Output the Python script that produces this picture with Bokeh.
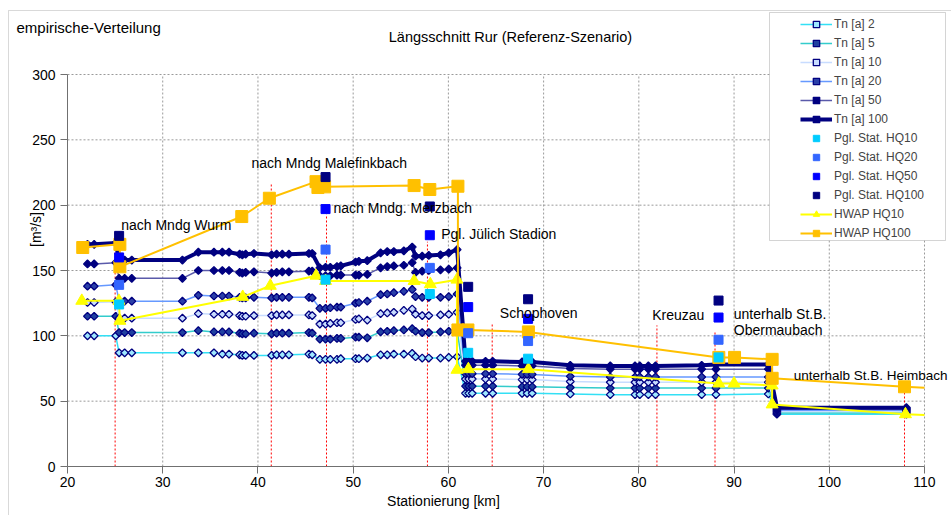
import math
from bokeh.plotting import figure
from bokeh.models import (Range1d, Legend, LegendItem, Label, BoxAnnotation,
                          FixedTicker, LinearAxis)
from bokeh.embed import file_html
from bokeh.resources import INLINE

# ---------------- data ----------------
stations = [22.1, 22.8, 25.07, 25.42, 26.0, 26.75, 32.07, 33.74, 35.38, 36.26,
            36.96, 38.08, 38.36, 38.71, 39.58, 41.44, 41.96, 42.56, 43.25, 45.35,
            45.7, 46.5, 47.1, 47.6, 48.3, 48.7, 50.25, 50.6, 51.48, 52.88,
            53.58, 54.27, 55.32, 56.2, 56.55, 57.25, 57.94, 59.17, 60.04, 60.92,
            61.8, 62.14, 62.5, 63.9, 64.65, 67.74, 68.27, 68.8, 72.8, 77.0,
            79.6, 80.1, 81.0, 81.75, 86.6, 88.1, 93.6, 94.5, 108.1]

tn100 = [170, 170, 171, 158, 158, 158, 158,
         164, 164, 164, 164, 162.5, 162, 162.5, 163,
         162, 162.5, 162.5, 162.5, 163, 163,
         152, 152.5, 152.5, 153, 153.5, 156.5, 157,
         157.5, 163.5, 164.5, 164.5, 165, 168, 161, 161, 161.5, 162, 163.5, 166,
         80.5, 80.5, 80.5, 80.5, 80.5, 80, 80, 80,
         77.5, 77, 77, 77, 77, 77, 77.5, 78, 78, 45, 45]
tn50 = [155, 155, 156, 144, 144, 144, 144,
        150, 150, 150, 150, 148.5, 148, 148.5, 149,
        148, 148.5, 149, 149, 149.5, 149.5,
        146, 146, 146, 146.5, 146.5, 146.5, 146.5,
        147, 152, 153, 153.5, 154, 156, 148.5, 149.5, 150, 150.5, 151, 152,
        77.5, 77.5, 77.5, 77.5, 77.5, 77, 77, 77,
        75, 74.5, 74.5, 74.5, 74.5, 74.5, 74.5, 74.5, 74.5, 44, 44]
tn20 = [138, 138, 139, 126.5, 126.5, 126.5, 126.5,
        131, 130.5, 130.5, 130.5, 129.5, 129, 129, 129.5,
        129, 129.5, 129.5, 129.5, 129.5, 129,
        121, 121, 121.5, 122, 122, 125, 125.5,
        126.5, 131.5, 132, 133, 134, 135.5, 130, 129.5, 129.5, 129.5, 130, 132,
        71, 71, 71, 71, 71, 70.5, 70.5, 70.5,
        69, 68.5, 68.5, 68.5, 68.5, 68.5, 68.5, 68.5, 68.5, 43, 43]
tn10 = [125.5, 125.5, 126, 113.5, 113.5, 113.5, 113.5,
        117, 116.5, 116.5, 116.5, 115.5, 115, 115, 115.5,
        115.5, 116, 116, 116, 116, 115.5,
        109, 109, 109.5, 110, 110, 112.5, 113,
        112, 117, 117.5, 118, 119.5, 120.5, 116.5, 115.5, 115.5, 116, 116.5, 118,
        67, 67, 67, 67, 67, 66.5, 66.5, 66.5,
        65, 64.5, 64.5, 64.5, 64.5, 64.5, 64.5, 64.5, 64.5, 42, 42]
tn5 = [115, 115, 115, 102.5, 102.5, 102.5, 102.5,
       104, 103, 103, 103, 102, 101.5, 101.5, 102,
       101.5, 102, 102, 102, 102.5, 102,
       97.5, 97.5, 97.5, 98, 98, 99, 99,
       98.5, 103, 103.5, 104, 104.5, 105.5, 103.5, 102.5, 102.5, 103, 103.5, 104,
       61.5, 61.5, 61.5, 61.5, 61.5, 61, 61, 61,
       60.5, 60, 60, 60, 60, 60, 60, 60, 60, 41, 41]
tn2 = [100, 100, 100, 87, 87, 87, 87,
       87, 87, 86, 86, 85.5, 85, 85, 85,
       85, 85.5, 85.5, 85.5, 86, 85.5,
       82, 82, 82, 82, 82.5, 82.5, 82.5,
       83, 85.5, 85.5, 86, 86, 86.5, 84, 83, 83, 83, 83.5, 84,
       56, 56, 56, 56, 56, 56, 56, 56,
       55.5, 55, 55, 55, 55, 55, 55, 55, 55.5, 40, 40]

pgl_x = [25.42, 47.1, 58.05, 62.08, 68.37, 88.37]
pgl_hq10 = [124, 143, 132, 87, 82.5, 83.5]
pgl_hq20 = [139, 166, 152, 102, 96, 97]
pgl_hq50 = [160, 197, 177, 122, 113, 114]
pgl_hq100 = [176.5, 221.5, 199, 137.5, 128, 127]

hwap10_x = [21.5, 25.4, 25.5, 38.4, 41.3, 46.1, 47.1, 56.4, 58.1, 60.9, 60.9,
            62.1, 68.4, 88.4, 90.0, 94.0, 94.0, 108.0]
hwap10_y = [126.8, 126.8, 111.5, 129.8, 138.3, 146, 142, 142, 139.5, 143, 74,
            74.5, 74.5, 63.5, 63.5, 62, 47.5, 40]
hwap100_x = [21.6, 25.5, 25.5, 38.3, 41.2, 46.1, 46.3, 47.0, 56.4, 58.05, 61.0,
             61.0, 62.05, 68.4, 88.4, 90.05, 94.0, 94.0, 107.9]
hwap100_y = [167.6, 170, 152.8, 191.3, 205.3, 218, 213.5, 214, 215, 212, 214.5,
             104.5, 104.5, 103, 83.5, 83.5, 82, 67.5, 61]
# value where each HWAP line leaves the plot at its right edge (x = 110)
hwap10_edge = 39.5
hwap100_edge = 60.3

mark_x = [25.0, 41.4, 47.2, 57.8, 64.6, 81.9, 88.0, 107.9]
mark_top = [180, 216, 193, 172, 110, 108, 104, 57]

x_ticks = [20, 30, 40, 50, 60, 70, 80, 90, 100, 110]
y_ticks = [0, 50, 100, 150, 200, 250, 300]

# ---------------- layout ----------------
W, H = 951, 515
FL, FR, FT, FB = 67, 924, 74, 466          # pixel box of the plot area
X0, X1, Y0, Y1 = 20, 110, 0, 300
FONT = "Liberation Sans"
KX = (FR - FL) / (X1 - X0)
KY = (FB - FT) / (Y1 - Y0)


def dx(px):
    return X0 + (px - FL) / KX


def dy(py):
    return Y0 + (FB - py) / KY


p = figure(width=W, height=H,
           x_range=Range1d(dx(0), dx(W)), y_range=Range1d(dy(H), dy(0)),
           x_axis_type=None, y_axis_type=None,
           output_backend="svg", toolbar_location=None,
           min_border_left=0, min_border_right=0,
           min_border_top=0, min_border_bottom=0)
p.outline_line_color = None
p.background_fill_color = "white"
p.border_fill_color = "white"

xaxis = LinearAxis(fixed_location=Y0, bounds=(X0, X1),
                   ticker=FixedTicker(ticks=x_ticks))
yaxis = LinearAxis(fixed_location=X0, bounds=(Y0, Y1),
                   ticker=FixedTicker(ticks=y_ticks))
p.add_layout(xaxis, "below")
p.add_layout(yaxis, "left")
for ax in (xaxis, yaxis):
    ax.major_label_text_font = FONT
    ax.major_label_text_font_size = "14px"
    ax.major_label_text_color = "black"
    ax.axis_line_color = "#707070"
    ax.major_tick_line_color = "#707070"
    ax.major_tick_in = 0
    ax.major_tick_out = 7
    ax.minor_tick_line_color = None
xaxis.major_label_standoff = 3
yaxis.major_label_standoff = 5

# grid lines at the tick positions
p.segment(x0=x_ticks[1:], y0=[Y0] * (len(x_ticks) - 1),
          x1=x_ticks[1:], y1=[Y1] * (len(x_ticks) - 1),
          line_color="#9a9a9a", line_dash="2 2", line_width=1)
p.segment(x0=[X0] * (len(y_ticks) - 1), y0=y_ticks[1:],
          x1=[X1] * (len(y_ticks) - 1), y1=y_ticks[1:],
          line_color="#9a9a9a", line_dash="2 2", line_width=1)

# outer chart border (right and bottom edges lie outside the picture)
p.add_layout(BoxAnnotation(left=dx(8), right=dx(970), top=dy(10), bottom=dy(560),
                           fill_alpha=0, line_color="#808080", line_width=1))

# red station markers
p.segment(x0=mark_x, y0=[0] * len(mark_x), x1=mark_x, y1=mark_top,
          line_color="#FF0000", line_dash="2 2", line_width=1)

series = [
    (tn2, "Tn [a] 2", "#33E0F5", 1.5, "#9FE8FF"),
    (tn5, "Tn [a] 5", "#33CCCC", 1.5, "#2040A0"),
    (tn10, "Tn [a] 10", "#C8DCFF", 1.5, "#C8DCFF"),
    (tn20, "Tn [a] 20", "#6699FF", 1.5, "#2A3FA8"),
    (tn50, "Tn [a] 50", "#5A5AAA", 1.5, "#000080"),
    (tn100, "Tn [a] 100", "#000080", 4, "#000080"),
]
items = []
for vals, name, col, lw, fill in series:
    l = p.line(stations, vals, line_color=col, line_width=lw)
    s = p.scatter(stations, vals, marker="square", angle=math.pi / 4, size=5.5,
                  line_color="#000080", fill_color=fill, line_width=1.3)
    items.append(LegendItem(label=name, renderers=[l, s]))

hl10 = p.line(hwap10_x + [X1], hwap10_y + [hwap10_edge],
              line_color="#FFFF00", line_width=2)
hs10 = p.scatter(hwap10_x, hwap10_y, marker="triangle", size=12,
                 color="#FFFF00")
hl100 = p.line(hwap100_x + [X1], hwap100_y + [hwap100_edge],
               line_color="#FFC000", line_width=2)
hs100 = p.scatter(hwap100_x, hwap100_y, marker="square", size=12,
                  color="#FFC000")

pg_items = []
for vals, name, col in [(pgl_hq10, "Pgl. Stat. HQ10", "#00CCFF"),
                        (pgl_hq20, "Pgl. Stat. HQ20", "#3366FF"),
                        (pgl_hq50, "Pgl. Stat. HQ50", "#0000FF"),
                        (pgl_hq100, "Pgl. Stat. HQ100", "#000080")]:
    r = p.scatter(pgl_x, vals, marker="square", size=9, color=col)
    pg_items.append(LegendItem(label=name, renderers=[r]))

items += pg_items
items.append(LegendItem(label="HWAP HQ10", renderers=[hl10, hs10]))
items.append(LegendItem(label="HWAP HQ100", renderers=[hl100, hs100]))


# texts
def add_text(px, py, txt, size="14px", align="left", angle=0.0):
    p.add_layout(Label(x=dx(px), y=dy(py), text=txt, text_font=FONT,
                       text_font_size=size, text_align=align,
                       text_baseline="middle", angle=angle,
                       text_color="black"))


add_text(16, 27, "empirische-Verteilung", size="15px")
add_text(510, 36, "Längsschnitt Rur (Referenz-Szenario)", size="14.5px",
         align="center")
add_text(443, 500, "Stationierung [km]", align="center")
add_text(35, 229, "[m³/s]", align="center", angle=math.pi / 2)

add_text(120.7, 224, "nach Mndg Wurm")
add_text(251, 162, "nach Mndg Malefinkbach")
add_text(333, 207, "nach Mndg. Merzbach")
add_text(440.7, 233, "Pgl. Jülich Stadion")
add_text(499.3, 312.5, "Schophoven")
add_text(651.7, 314.5, "Kreuzau")
add_text(733.3, 313.5, "unterhalb St.B.")
add_text(733.3, 329.5, "Obermaubach")
add_text(947, 374.5, "unterhalb St.B. Heimbach", size="13.5px", align="right")

# legend box + legend
p.add_layout(BoxAnnotation(left=dx(769), right=dx(945), top=dy(12), bottom=dy(240),
                           fill_color="white", fill_alpha=1,
                           line_color="#707070", line_width=1))
legend = Legend(items=items, location=(798, H - 243),
                label_text_font=FONT, label_text_font_size="12px",
                glyph_width=32, glyph_height=16, label_height=16,
                label_standoff=2, spacing=3, padding=2, margin=0,
                border_line_alpha=0, background_fill_alpha=0)
p.add_layout(legend)

open("out.html", "w").write(file_html(p, INLINE))
